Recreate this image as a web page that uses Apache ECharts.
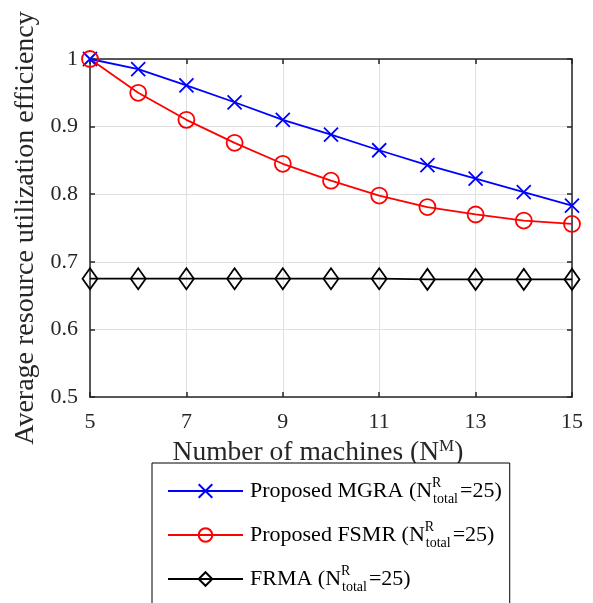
<!DOCTYPE html>
<html>
<head>
<meta charset="utf-8">
<script src="https://cdn.jsdelivr.net/npm/echarts@6/dist/echarts.min.js"></script>
<style>
  html, body { margin: 0; padding: 0; background: #fff; }
  #chart { width: 593px; height: 603px; }
</style>
</head>
<body>
<div id="chart"></div>
<script>
// x categories (number of machines)
const machines = ['5', '6', '7', '8', '9', '10', '11', '12', '13', '14', '15']

// average resource utilization efficiency
const mgra = [1.0, 0.985, 0.961, 0.936, 0.910, 0.888, 0.865, 0.843, 0.823, 0.803, 0.783]
const fsmr = [1.0, 0.950, 0.910, 0.876, 0.845, 0.820, 0.798, 0.781, 0.770, 0.761, 0.756]
const frma = [0.675, 0.675, 0.675, 0.675, 0.675, 0.675, 0.675, 0.674, 0.674, 0.674, 0.674]

const seriesNames = ['Proposed MGRA', 'Proposed FSMR', 'FRMA']

const serif = '"Liberation Serif", "Times New Roman", serif'
const axisColor = '#262626'

const crossPath = 'path://M0,0L10,10M10,0L0,10'
const circlePath = 'path://M10,0A10,10,0,1,1,9.999,0Z'
const diamondPath = 'path://M7,0L14,10L7,20L0,10Z'

const chart = echarts.init(document.getElementById('chart'), null, { renderer: 'canvas' })

const makeSeries = (name, data, color, symbol, size) => ({
  name,
  type: 'line',
  data,
  symbol,
  symbolSize: size,
  showAllSymbol: true,
  lineStyle: { color, width: 1.8 },
  itemStyle: { color: 'transparent', borderColor: color, borderWidth: 1.8 },
  emphasis: { disabled: true },
  animation: false
})

const option = {
  animation: false,
  grid: {
    left: 90,
    right: 21,
    top: 59,
    bottom: 206,
    containLabel: false
  },
  legend: {
    orient: 'vertical',
    left: 152,
    top: 463,
    height: 300,
    padding: [13, 8, 40, 15],
    borderColor: '#000',
    borderWidth: 1,
    backgroundColor: '#fff',
    itemWidth: 75,
    itemHeight: 17,
    itemGap: 14,
    data: seriesNames,
    formatter: name => '{b|' + name + ' (N}{sup|R}{sub|total}{b|=25)}',
    textStyle: {
      fontFamily: serif,
      color: '#000',
      rich: {
        b: { fontFamily: serif, fontSize: 22, lineHeight: 30, color: '#000', padding: [0, 0, 0, 2] },
        sup: { fontFamily: serif, fontSize: 14, lineHeight: 13, width: 1, verticalAlign: 'top', color: '#000' },
        sub: { fontFamily: serif, fontSize: 14, lineHeight: 13, verticalAlign: 'bottom', color: '#000' }
      }
    }
  },
  xAxis: [
    {
      type: 'category',
      data: machines,
      boundaryGap: false,
      name: '{b|Number of machines (N}{sup|M}{b|)}',
      nameLocation: 'middle',
      nameGap: 16,
      nameTextStyle: {
        fontFamily: serif,
        color: axisColor,
        padding: [0, 26, 0, 0],
        rich: {
          b: { fontFamily: serif, fontSize: 27.5, lineHeight: 30, color: axisColor },
          sup: { fontFamily: serif, fontSize: 17, lineHeight: 17, verticalAlign: 'top', color: axisColor }
        }
      },
      axisLine: { lineStyle: { color: axisColor, width: 1.5 } },
      axisTick: { inside: true, length: 5, interval: 1, lineStyle: { color: axisColor, width: 1.5 } },
      axisLabel: { interval: 1, fontFamily: serif, fontSize: 22, color: axisColor, margin: 14 },
      splitLine: { show: true, interval: 1, lineStyle: { color: '#dfdfdf', width: 1 } }
    },
    {
      type: 'category',
      data: machines,
      boundaryGap: false,
      position: 'top',
      axisLine: { lineStyle: { color: axisColor, width: 1.5 } },
      axisTick: { inside: true, length: 5, interval: 1, lineStyle: { color: axisColor, width: 1.5 } },
      axisLabel: { show: false },
      splitLine: { show: false }
    }
  ],
  yAxis: [
    {
      type: 'value',
      min: 0.5,
      max: 1,
      interval: 0.1,
      name: 'Average resource utilization efficiency',
      nameLocation: 'middle',
      nameGap: 42,
      nameTextStyle: { fontFamily: serif, fontSize: 28, color: axisColor },
      axisLine: { show: true, lineStyle: { color: axisColor, width: 1.5 } },
      axisTick: { show: true, inside: true, length: 5, lineStyle: { color: axisColor, width: 1.5 } },
      axisLabel: {
        fontFamily: serif, fontSize: 22, color: axisColor, margin: 12,
        formatter: v => (Math.abs(v - 1) < 1e-9 ? '1' : v.toFixed(1))
      },
      splitLine: { show: true, lineStyle: { color: '#dfdfdf', width: 1 } }
    },
    {
      type: 'value',
      min: 0.5,
      max: 1,
      interval: 0.1,
      position: 'right',
      axisLine: { show: true, lineStyle: { color: axisColor, width: 1.5 } },
      axisTick: { show: true, inside: true, length: 5, lineStyle: { color: axisColor, width: 1.5 } },
      axisLabel: { show: false },
      splitLine: { show: false }
    }
  ],
  series: [
    makeSeries(seriesNames[0], mgra, '#0000ff', crossPath, 14),
    makeSeries(seriesNames[1], fsmr, '#ff0000', circlePath, 16),
    makeSeries(seriesNames[2], frma, '#000000', diamondPath, [15, 21])
  ]
}

chart.setOption(option)

window.addEventListener('resize', () => {
  chart.resize()
})
</script>
</body>
</html>
